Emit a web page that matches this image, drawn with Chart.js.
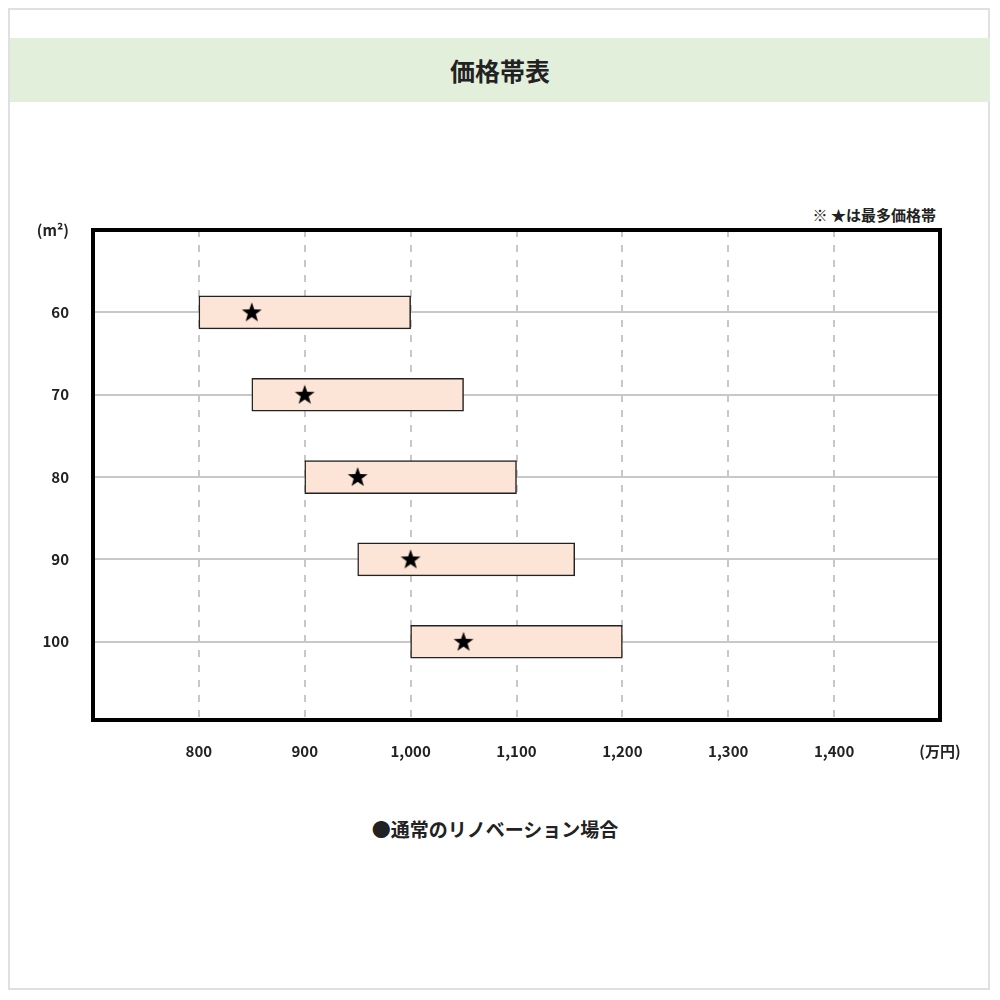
<!DOCTYPE html>
<html>
<head>
<meta charset="utf-8">
<script src="https://cdn.jsdelivr.net/npm/chart.js@4/dist/chart.umd.min.js"></script>
<style>
  html, body { margin: 0; padding: 0; background: #fff; }
  body { width: 1000px; height: 1000px; position: relative; overflow: hidden;
         font-family: "Noto Sans CJK JP", "Noto Sans", sans-serif; }
  #frame { position: absolute; left: 8px; top: 8px; width: 982px; height: 982px;
           border: 2px solid #e0e0e0; box-sizing: border-box; }
  #titleband { position: absolute; left: 10px; top: 38px; width: 980px; height: 64px;
               background: #e2efda; display: flex; align-items: center; justify-content: center;
               font-size: 25px; font-weight: bold; color: #222; }
  #note { position: absolute; right: 64px; top: 204px; font-size: 15px; font-weight: bold; color: #222; }
  #legend { position: absolute; left: 0; width: 990px; top: 815px; text-align: center;
            font-size: 19px; font-weight: bold; color: #222; }
  #wrap { position: absolute; left: 0; top: 0; width: 1000px; height: 1000px; }
</style>
</head>
<body>
<div id="frame"></div>
<div id="titleband">価格帯表</div>
<div id="note">※ ★は最多価格帯</div>
<div id="legend">●通常のリノベーション場合</div>
<div id="wrap"><canvas id="c"></canvas></div>
<script>
const areas = [60, 70, 80, 90, 100];
const priceLow = [800, 850, 900, 950, 1000];
const priceHigh = [1000, 1050, 1100, 1155, 1200];
const priceMost = [850, 900, 950, 1000, 1050];
const xTicks = [700, 800, 900, 1000, 1100, 1200, 1300, 1400, 1500];
const yTicks = [50, 60, 70, 80, 90, 100];
const xUnit = '(万円)';
const yUnit = '(m²)';

// star image for point style
const starCanvas = document.createElement('canvas');
starCanvas.width = 22; starCanvas.height = 22;
(function(){
  const g = starCanvas.getContext('2d');
  g.fillStyle = '#000';
  g.beginPath();
  const cx = 11, cy = 11.5, R = 10.5, r = 4.2;
  for (let i = 0; i < 10; i++) {
    const a = -Math.PI / 2 + i * Math.PI / 5;
    const rad = i % 2 === 0 ? R : r;
    const px = cx + rad * Math.cos(a), py = cy + rad * Math.sin(a);
    if (i === 0) g.moveTo(px, py); else g.lineTo(px, py);
  }
  g.closePath(); g.fill();
})();

const boxPlugin = {
  id: 'box',
  afterDatasetsDraw(chart) {
    const {ctx, chartArea: a} = chart;
    ctx.save();
    ctx.strokeStyle = '#000';
    ctx.lineWidth = 4;
    ctx.strokeRect(a.left, a.top, a.right - a.left, a.bottom - a.top);
    ctx.restore();
  }
};

const font = { family: '"Noto Sans CJK JP", "Noto Sans", sans-serif', size: 15, weight: 'bold' };

new Chart(document.getElementById('c'), {
  data: {
    datasets: [
      {
        type: 'bar',
        data: areas.map((a, i) => ({ y: a, x: [priceLow[i], priceHigh[i]] })),
        backgroundColor: '#fce4d6',
        borderColor: '#222',
        borderWidth: 1.5,
        borderSkipped: false,
        barThickness: 33,
        order: 2
      },
      {
        type: 'scatter',
        data: areas.map((a, i) => ({ x: priceMost[i], y: a })),
        pointStyle: starCanvas,
        order: 1
      }
    ]
  },
  options: {
    indexAxis: 'y',
    responsive: true,
    maintainAspectRatio: false,
    animation: false,
    layout: { padding: { left: 30, right: 60, top: 230, bottom: 220 } },
    plugins: { legend: { display: false }, tooltip: { enabled: false } },
    scales: {
      x: {
        type: 'linear',
        min: 700, max: 1500,
        offset: false,
        afterBuildTicks(s) { s.ticks = xTicks.map(v => ({ value: v })); },
        afterFit(s) { s.height = 60; },
        grid: { color: '#c8c8c8', lineWidth: 2, drawTicks: false, offset: false },
        border: { display: false, dash: [7, 8] },
        ticks: {
          padding: 22,
          color: '#222',
          font: font,
          maxRotation: 0,
          autoSkip: false,
          callback(v) {
            if (v === 700) return '';
            if (v === 1500) return xUnit;
            return v.toLocaleString('en-US');
          }
        }
      },
      y: {
        type: 'linear',
        reverse: true,
        min: 50, max: 109.5,
        offset: false,
        afterBuildTicks(s) { s.ticks = yTicks.map(v => ({ value: v })); },
        afterFit(s) { s.width = 63; },
        grid: { color: '#c8c8c8', lineWidth: 2, drawTicks: false, offset: false },
        border: { display: false },
        ticks: {
          padding: 24,
          color: '#222',
          font: font,
          autoSkip: false,
          callback(v) {
            if (v === 50) return yUnit;
            return String(v);
          }
        }
      }
    }
  },
  plugins: [boxPlugin]
});
</script>
</body>
</html>
